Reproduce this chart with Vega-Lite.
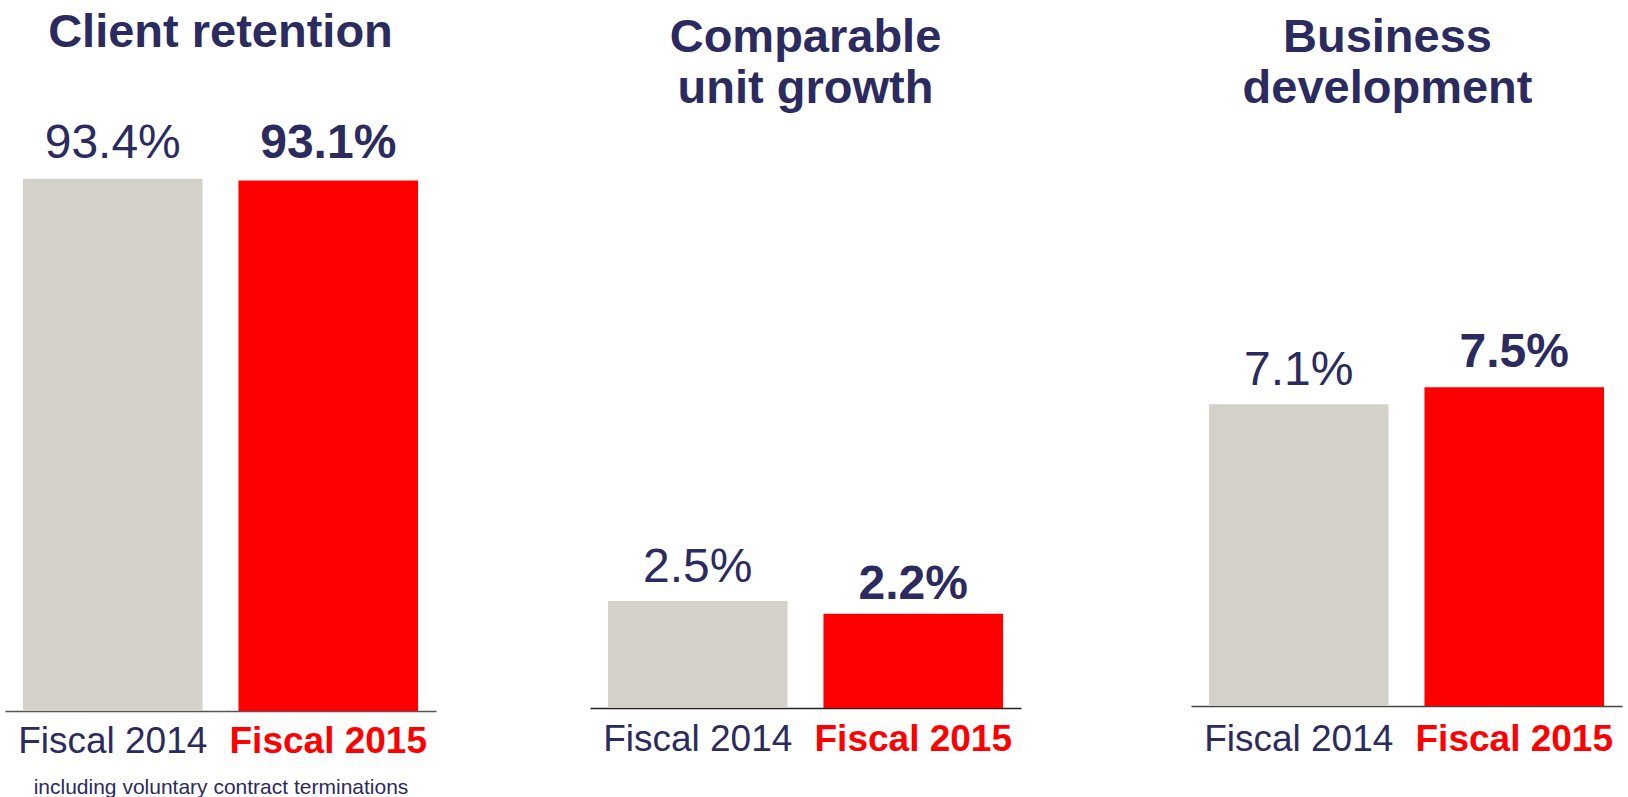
{
  "$schema": "https://vega.github.io/schema/vega-lite/v6.json",
  "padding": {"left": 5, "right": 6, "top": 8, "bottom": 0},
  "background": "white",
  "config": {
    "view": {"stroke": null},
    "font": "Liberation Sans",
    "concat": {"spacing": 154}
  },
  "datasets": {
    "kpi": [
      {"panel": "Client retention", "year": "Fiscal 2014", "value": 0.934},
      {"panel": "Client retention", "year": "Fiscal 2015", "value": 0.931},
      {"panel": "Comparable unit growth", "year": "Fiscal 2014", "value": 0.025},
      {"panel": "Comparable unit growth", "year": "Fiscal 2015", "value": 0.022},
      {"panel": "Business development", "year": "Fiscal 2014", "value": 0.071},
      {"panel": "Business development", "year": "Fiscal 2015", "value": 0.075}
    ]
  },
  "hconcat": [
    {
      "hconcat": [
        {
          "width": 431, "height": 588,
          "data": {"name": "kpi"},
          "transform": [{"filter": "datum.panel === 'Client retention'"}],
          "title": {"text": "Client retention", "font": "Liberation Sans", "fontSize": 47, "fontWeight": "bold", "color": "#2B2B5F", "anchor": "middle", "baseline": "alphabetic", "offset": 26, "lineHeight": 51},
          "encoding": {
            "x": {"field": "year", "type": "nominal", "sort": null,
              "scale": {"paddingInner": 0.1667, "paddingOuter": 0.0833},
              "axis": {"title": "including voluntary contract terminations", "titleFontSize": 21, "titleFontWeight": "normal", "titleColor": "#2B2B5F", "titleFont": "Liberation Sans", "titlePadding": 17,
                "labelAngle": 0, "labelFontSize": 37, "labelFont": "Liberation Sans", "labelBaseline": "alphabetic", "labelPadding": 41, "labelLimit": 0, "ticks": false, "tickSize": 0,
                "domainColor": "#555555", "domainWidth": 1.5, "grid": false,
                "labelColor": {"condition": {"test": "datum.value === 'Fiscal 2015'", "value": "#FF0000"}, "value": "#2B2B5F"},
                "labelFontWeight": {"condition": {"test": "datum.value === 'Fiscal 2015'", "value": "bold"}, "value": "normal"}}},
            "y": {"field": "value", "type": "quantitative", "scale": {"domain": [0, 1.032], "nice": false}, "axis": null}
          },
          "layer": [
            {"mark": {"type": "bar"},
             "encoding": {"color": {"field": "year", "type": "nominal", "scale": {"domain": ["Fiscal 2014", "Fiscal 2015"], "range": ["#D4D1CA", "#FF0000"]}, "legend": null}}},
            {"transform": [{"filter": "datum.year === 'Fiscal 2014'"}],
             "mark": {"type": "text", "font": "Liberation Sans", "fontSize": 48, "fontWeight": "normal", "color": "#2B2B5F", "baseline": "alphabetic", "dy": -21},
             "encoding": {"text": {"field": "value", "type": "quantitative", "format": ".1%"}}},
            {"transform": [{"filter": "datum.year === 'Fiscal 2015'"}],
             "mark": {"type": "text", "font": "Liberation Sans", "fontSize": 48, "fontWeight": "bold", "color": "#2B2B5F", "baseline": "alphabetic", "dy": -23},
             "encoding": {"text": {"field": "value", "type": "quantitative", "format": ".1%"}}}
          ]
        },
        {
          "width": 431, "height": 585,
          "data": {"name": "kpi"},
          "transform": [{"filter": "datum.panel === 'Comparable unit growth'"}],
          "title": {"text": ["Comparable", "unit growth"], "font": "Liberation Sans", "fontSize": 47, "fontWeight": "bold", "color": "#2B2B5F", "anchor": "middle", "baseline": "alphabetic", "offset": -27, "lineHeight": 51},
          "encoding": {
            "x": {"field": "year", "type": "nominal", "sort": null,
              "scale": {"paddingInner": 0.1667, "paddingOuter": 0.0833},
              "axis": {"title": null,
                "labelAngle": 0, "labelFontSize": 37, "labelFont": "Liberation Sans", "labelBaseline": "alphabetic", "labelPadding": 42, "labelLimit": 0, "ticks": false, "tickSize": 0,
                "domainColor": "#222222", "domainWidth": 1.5, "grid": false,
                "labelColor": {"condition": {"test": "datum.value === 'Fiscal 2015'", "value": "#FF0000"}, "value": "#2B2B5F"},
                "labelFontWeight": {"condition": {"test": "datum.value === 'Fiscal 2015'", "value": "bold"}, "value": "normal"}}},
            "y": {"field": "value", "type": "quantitative", "scale": {"domain": [0, 0.1367], "nice": false}, "axis": null}
          },
          "layer": [
            {"mark": {"type": "bar"},
             "encoding": {"color": {"field": "year", "type": "nominal", "scale": {"domain": ["Fiscal 2014", "Fiscal 2015"], "range": ["#D4D1CA", "#FF0000"]}, "legend": null}}},
            {"transform": [{"filter": "datum.year === 'Fiscal 2014'"}],
             "mark": {"type": "text", "font": "Liberation Sans", "fontSize": 48, "fontWeight": "normal", "color": "#2B2B5F", "baseline": "alphabetic", "dy": -19},
             "encoding": {"text": {"field": "value", "type": "quantitative", "format": ".1%"}}},
            {"transform": [{"filter": "datum.year === 'Fiscal 2015'"}],
             "mark": {"type": "text", "font": "Liberation Sans", "fontSize": 48, "fontWeight": "bold", "color": "#2B2B5F", "baseline": "alphabetic", "dy": -15},
             "encoding": {"text": {"field": "value", "type": "quantitative", "format": ".1%"}}}
          ]
        }
      ]
    },
    {
      "width": 431, "height": 583,
      "data": {"name": "kpi"},
      "transform": [{"filter": "datum.panel === 'Business development'"}],
      "title": {"text": ["Business", "development"], "font": "Liberation Sans", "fontSize": 47, "fontWeight": "bold", "color": "#2B2B5F", "anchor": "middle", "baseline": "alphabetic", "offset": -27, "dx": -19, "lineHeight": 51},
      "encoding": {
        "x": {"field": "year", "type": "nominal", "sort": null,
          "scale": {"paddingInner": 0.1667, "paddingOuter": 0.0833},
          "axis": {"title": null,
            "labelAngle": 0, "labelFontSize": 37, "labelFont": "Liberation Sans", "labelBaseline": "alphabetic", "labelPadding": 44, "labelLimit": 0, "ticks": false, "tickSize": 0,
            "domainColor": "#444444", "domainWidth": 1.5, "grid": false,
            "labelColor": {"condition": {"test": "datum.value === 'Fiscal 2015'", "value": "#FF0000"}, "value": "#2B2B5F"},
            "labelFontWeight": {"condition": {"test": "datum.value === 'Fiscal 2015'", "value": "bold"}, "value": "normal"}}},
        "y": {"field": "value", "type": "quantitative", "scale": {"domain": [0, 0.1372], "nice": false}, "axis": null}
      },
      "layer": [
        {"mark": {"type": "bar"},
         "encoding": {"color": {"field": "year", "type": "nominal", "scale": {"domain": ["Fiscal 2014", "Fiscal 2015"], "range": ["#D4D1CA", "#FF0000"]}, "legend": null}}},
        {"transform": [{"filter": "datum.year === 'Fiscal 2014'"}],
         "mark": {"type": "text", "font": "Liberation Sans", "fontSize": 48, "fontWeight": "normal", "color": "#2B2B5F", "baseline": "alphabetic", "dy": -19},
         "encoding": {"text": {"field": "value", "type": "quantitative", "format": ".1%"}}},
        {"transform": [{"filter": "datum.year === 'Fiscal 2015'"}],
         "mark": {"type": "text", "font": "Liberation Sans", "fontSize": 48, "fontWeight": "bold", "color": "#2B2B5F", "baseline": "alphabetic", "dy": -20},
         "encoding": {"text": {"field": "value", "type": "quantitative", "format": ".1%"}}}
      ]
    }
  ],
  "spacing": 170
}
